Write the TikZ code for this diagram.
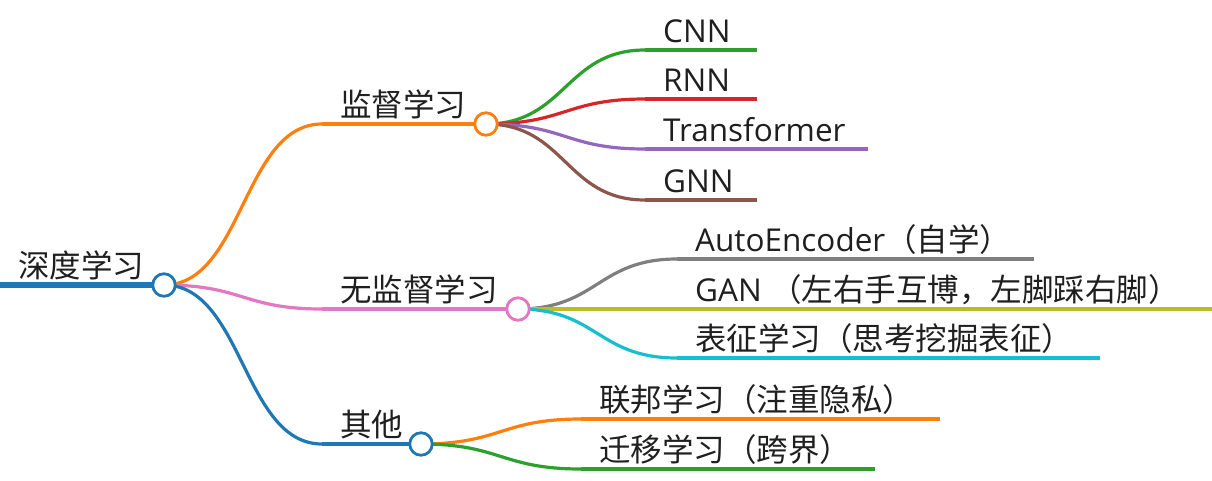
\documentclass[tikz,border=0pt]{standalone}
\usepackage{fontspec}
\setmainfont{Open Sans}
\newfontfamily\cjk{Noto Sans CJK SC}
\usetikzlibrary{calc}
\definecolor{cblue}{HTML}{1F77B4}
\definecolor{corange}{HTML}{FF7F0E}
\definecolor{cgreen}{HTML}{2CA02C}
\definecolor{cred}{HTML}{D62728}
\definecolor{cpurple}{HTML}{9467BD}
\definecolor{cbrown}{HTML}{8C564B}
\definecolor{cpink}{HTML}{E377C2}
\definecolor{cgray}{HTML}{7F7F7F}
\definecolor{colive}{HTML}{BCBD22}
\definecolor{ccyan}{HTML}{17BECF}
\newcommand\mmlink[3]{\draw[#1] let \p1=(#2), \p2=(#3) in (\p1) .. controls ({(\x1+\x2)/2},\y1) and ({(\x1+\x2)/2},\y2) .. (\p2);}
\tikzset{
  branch/.style={line width=3.2pt, draw=#1},
  rootline/.style={line width=6.5pt, draw=cblue},
  dot/.style={circle, draw=#1, fill=white, line width=2.8pt, minimum size=22.5pt, inner sep=0pt},
  lbl/.style={anchor=base west, inner sep=0pt, text=black!88, font=\fontsize{31.5}{36}\selectfont},
}
\begin{document}
\begin{tikzpicture}[x=1pt,y=-1pt]
\useasboundingbox (0,0) rectangle (1212,480);
% coordinates
\coordinate (r-s) at (0,285);
\coordinate (r) at (164,285);
\coordinate (a-s) at (322,124); \coordinate (a) at (486,124);
\coordinate (b-s) at (322,309); \coordinate (b) at (518,309);
\coordinate (c-s) at (322,444); \coordinate (c) at (421,444);
\coordinate (a1-s) at (645,50);  \coordinate (a1-e) at (757,50);
\coordinate (a2-s) at (645,99);  \coordinate (a2-e) at (757,99);
\coordinate (a3-s) at (645,149); \coordinate (a3-e) at (868,149);
\coordinate (a4-s) at (645,200); \coordinate (a4-e) at (757,200);
\coordinate (b1-s) at (677,259); \coordinate (b1-e) at (1034,259);
\coordinate (b2-s) at (677,309); \coordinate (b2-e) at (1212,309);
\coordinate (b3-s) at (677,358); \coordinate (b3-e) at (1100,358);
\coordinate (c1-s) at (581,419); \coordinate (c1-e) at (940,419);
\coordinate (c2-s) at (581,469); \coordinate (c2-e) at (875,469);
% lines
\draw[rootline] (r-s) -- (r);
\mmlink{branch=corange}{r}{a-s} \draw[branch=corange] (a-s) -- (a);
\mmlink{branch=cpink}{r}{b-s} \draw[branch=cpink] (b-s) -- (b);
\mmlink{branch=cblue}{r}{c-s} \draw[branch=cblue] (c-s) -- (c);
\mmlink{branch=cgreen}{a}{a1-s} \draw[branch=cgreen] (a1-s) -- (a1-e);
\mmlink{branch=cred}{a}{a2-s} \draw[branch=cred] (a2-s) -- (a2-e);
\mmlink{branch=cpurple}{a}{a3-s} \draw[branch=cpurple] (a3-s) -- (a3-e);
\mmlink{branch=cbrown}{a}{a4-s} \draw[branch=cbrown] (a4-s) -- (a4-e);
\mmlink{branch=cgray}{b}{b1-s} \draw[branch=cgray] (b1-s) -- (b1-e);
\mmlink{branch=colive}{b}{b2-s} \draw[branch=colive] (b2-s) -- (b2-e);
\mmlink{branch=ccyan}{b}{b3-s} \draw[branch=ccyan] (b3-s) -- (b3-e);
\mmlink{branch=corange}{c}{c1-s} \draw[branch=corange] (c1-s) -- (c1-e);
\mmlink{branch=cgreen}{c}{c2-s} \draw[branch=cgreen] (c2-s) -- (c2-e);
% circles
\node[dot=cblue] (rc) at (r) {};
\node[dot=corange] (ac) at (a) {};
\node[dot=cpink] (bc) at (b) {};
\node[dot=cblue] (cc) at (c) {};
% labels
\node[lbl] (t-r) at (18,277) {\cjk 深度学习};
\node[lbl] (t-a) at (340,116) {\cjk 监督学习};
\node[lbl] (t-b) at (340,301) {\cjk 无监督学习};
\node[lbl] (t-c) at (340,436) {\cjk 其他};
\node[lbl] (t-a1) at (663,42) {CNN};
\node[lbl] (t-a2) at (663,91) {RNN};
\node[lbl] (t-a3) at (663,141) {Transformer};
\node[lbl] (t-a4) at (663,192) {GNN};
\node[lbl] (t-b1) at (695,251) {AutoEncoder{\cjk （自学）}};
\node[lbl] (t-b2) at (695,301) {GAN {\cjk （左右手互博，左脚踩右脚）}};
\node[lbl] (t-b3) at (695,350) {\cjk 表征学习（思考挖掘表征）};
\node[lbl] (t-c1) at (599,411) {\cjk 联邦学习（注重隐私）};
\node[lbl] (t-c2) at (599,461) {\cjk 迁移学习（跨界）};
\end{tikzpicture}
\end{document}
